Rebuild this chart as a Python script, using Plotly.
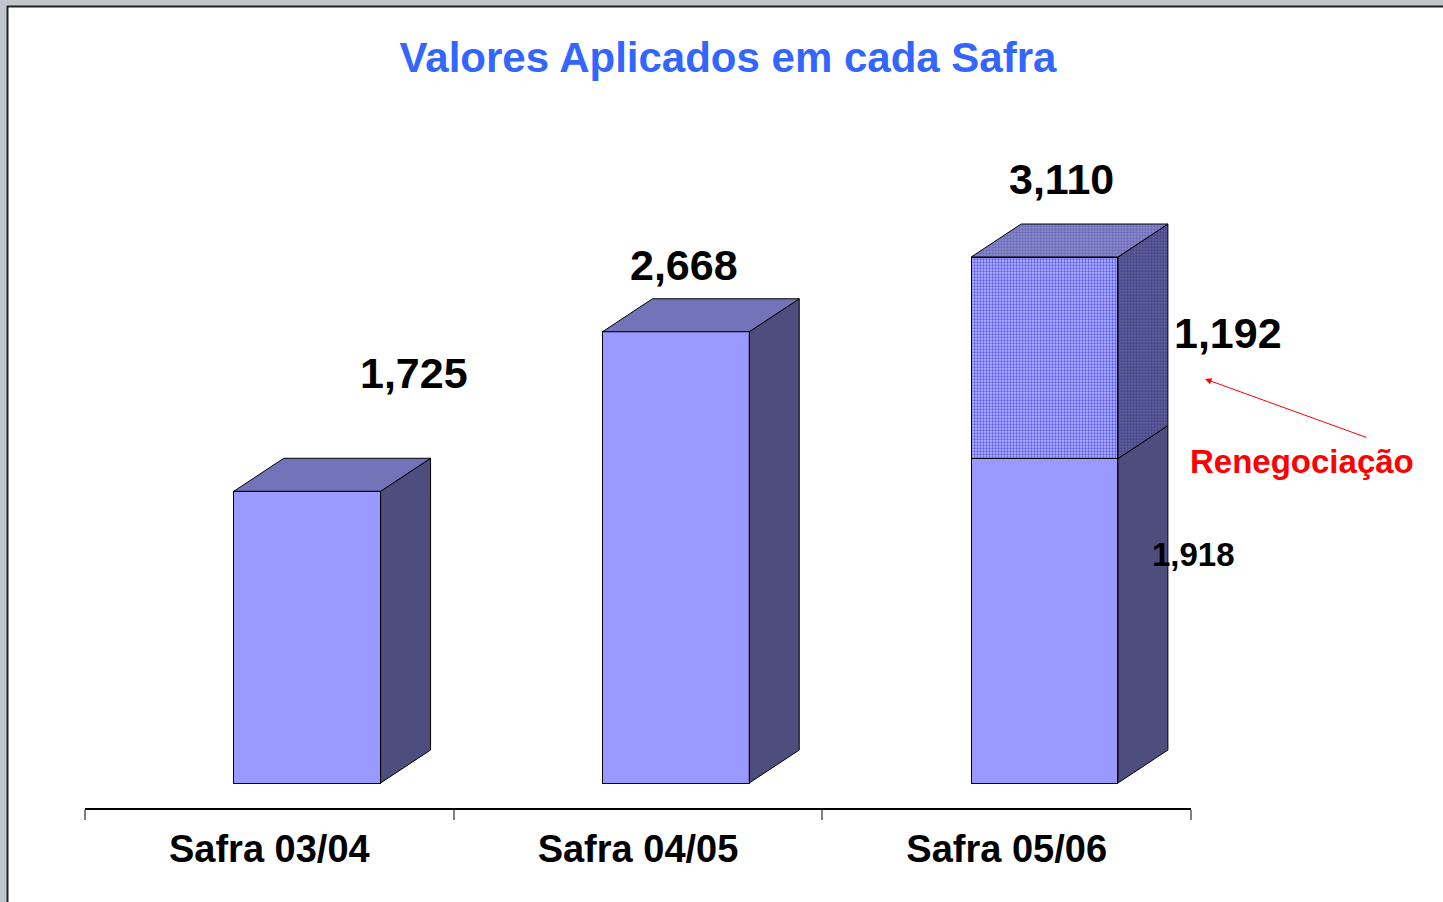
import plotly.graph_objects as go

# ---- data ----
categories = ["Safra 03/04", "Safra 04/05", "Safra 05/06"]
base_values = [1725, 2668, 1918]
reneg_values = [0, 0, 1192]
total_labels = ["1,725", "2,668", "3,110"]
base_label_3 = "1,918"
reneg_label_3 = "1,192"

# ---- geometry / style constants ----
X0_OFF = -0.0962       # bar front left edge relative to category position
BAR_W = 0.398          # bar front width (category units)
DX = 0.1355            # 3D depth, x (category units)
DY = 195.0             # 3D depth, y (value units)
FONT = "Liberation Sans, Arial, sans-serif"

FRONT = "#9999FF"
TOP = "#7373B9"
SIDE = "#4D4D7E"

L, R, T, B = 85, 252, 120, 94
W, H = 1443, 902
PW, PH = W - L - R, H - T - B


def px_x(p):
    return (p - L) / PW


def px_y(p):
    return (H - B - p) / PH


fig = go.Figure()
x_pos = list(range(len(categories)))

# front faces
fig.add_trace(go.Bar(
    x=x_pos, y=base_values, offset=X0_OFF, width=BAR_W,
    marker=dict(color=FRONT, line=dict(color="black", width=1)),
    hoverinfo="skip", showlegend=False))
fig.add_trace(go.Bar(
    x=x_pos, y=reneg_values, offset=X0_OFF, width=BAR_W,
    marker=dict(color=FRONT, line=dict(color="black", width=1),
                pattern=dict(shape=".", bgcolor="#B4B4FF", fgcolor="#5A5AF2",
                             size=3, solidity=0.45, fillmode="replace")),
    hoverinfo="skip", showlegend=False))


def face(xs, ys, color, pattern=None):
    kw = dict(x=xs + [xs[0]], y=ys + [ys[0]], mode="lines", fill="toself",
              fillcolor=color, line=dict(color="black", width=1),
              hoverinfo="skip", showlegend=False)
    if pattern:
        kw["fillpattern"] = pattern
    fig.add_trace(go.Scatter(**kw))


SIDE_PAT = dict(shape=".", bgcolor="#5C5C98", fgcolor="#30307E", size=3, solidity=0.45)
TOP_PAT = dict(shape=".", bgcolor="#8A8AC8", fgcolor="#4848B0", size=3, solidity=0.45)

for i, xc in enumerate(x_pos):
    x0 = xc + X0_OFF
    x1 = x0 + BAR_W
    segs = [(0, base_values[i], None, None)]
    if reneg_values[i] > 0:
        segs.append((base_values[i], base_values[i] + reneg_values[i], SIDE_PAT, TOP_PAT))
    for (b, t, sp, tp) in segs:
        face([x1, x1 + DX, x1 + DX, x1], [b, b + DY, t + DY, t], SIDE, sp)
    b, t, sp, tp = segs[-1]
    face([x0, x0 + DX, x1 + DX, x1], [t, t + DY, t + DY, t], TOP, tp)

# ---- annotations ----
ann = []
label_pos = [(0.392, 2424), (1.126, 3063), (2.150, 3571)]
for (lx, ly), txt in zip(label_pos, total_labels):
    ann.append(dict(x=lx, y=ly, text="<b>%s</b>" % txt, showarrow=False,
                    xanchor="center", yanchor="middle",
                    font=dict(family=FONT, size=43, color="black")))
ann.append(dict(xref="paper", yref="paper", x=px_x(1228), y=px_y(333),
                text="<b>%s</b>" % reneg_label_3, showarrow=False,
                xanchor="center", yanchor="middle",
                font=dict(family=FONT, size=43, color="black")))
ann.append(dict(xref="paper", yref="paper", x=px_x(1193), y=px_y(554),
                text="<b>%s</b>" % base_label_3, showarrow=False,
                xanchor="center", yanchor="middle",
                font=dict(family=FONT, size=33, color="black")))
ann.append(dict(xref="paper", yref="paper", x=px_x(1302), y=px_y(461),
                text="<b>Renegociação</b>", showarrow=False,
                xanchor="center", yanchor="middle",
                font=dict(family=FONT, size=33, color="#FF0000")))
ann.append(dict(xref="paper", yref="paper", x=px_x(1205), y=px_y(379), text="",
                showarrow=True, ax=163, ay=59,
                arrowcolor="#FF0000", arrowwidth=1, arrowhead=2, arrowsize=1.3,
                standoff=0, startstandoff=0))

# ---- frame (gray window border) ----
shapes = [
    dict(type="rect", xref="paper", yref="paper", x0=px_x(0), x1=px_x(W),
         y0=px_y(0), y1=px_y(6), fillcolor="#C2C5C9", line=dict(width=0), layer="above"),
    dict(type="rect", xref="paper", yref="paper", x0=px_x(0), x1=px_x(7),
         y0=px_y(0), y1=px_y(H), fillcolor="#C2C5C9", line=dict(width=0), layer="above"),
    dict(type="line", xref="paper", yref="paper", x0=px_x(7), x1=px_x(W),
         y0=px_y(6.5), y1=px_y(6.5), line=dict(color="#222222", width=2), layer="above"),
    dict(type="line", xref="paper", yref="paper", x0=px_x(7.5), x1=px_x(7.5),
         y0=px_y(6), y1=px_y(H), line=dict(color="#222222", width=2), layer="above"),
]

fig.update_layout(
    width=W, height=H,
    margin=dict(l=L, r=R, t=T, b=B),
    paper_bgcolor="white", plot_bgcolor="white",
    barmode="stack",
    showlegend=False,
    title=dict(text="<b>Valores Aplicados em cada Safra</b>", x=728 / W, y=1 - 57 / H,
               xanchor="center", yanchor="middle", xref="container", yref="container",
               font=dict(family=FONT, size=42, color="#3366FF")),
    xaxis=dict(range=[-0.5, 2.5], tickvals=x_pos, ticktext=["<b>%s</b>" % c for c in categories],
               ticks="", showline=True, linecolor="black", linewidth=1.5,
               showgrid=False, zeroline=False, ticklabelstandoff=7,
               tickfont=dict(family=FONT, size=38, color="black"),
               minor=dict(tickvals=[-0.5, 0.5, 1.5, 2.5], ticks="outside", ticklen=10,
                          tickcolor="#808080", tickwidth=2, showgrid=False)),
    yaxis=dict(range=[(783 - 808) / 0.16913, (783 - 120) / 0.16913], visible=False,
               showgrid=False, zeroline=False),
    annotations=ann,
    shapes=shapes,
)

fig.write_html("out.html", config={"displayModeBar": False},
               post_script="document.body.style.margin='0';document.body.style.overflow='hidden';")
